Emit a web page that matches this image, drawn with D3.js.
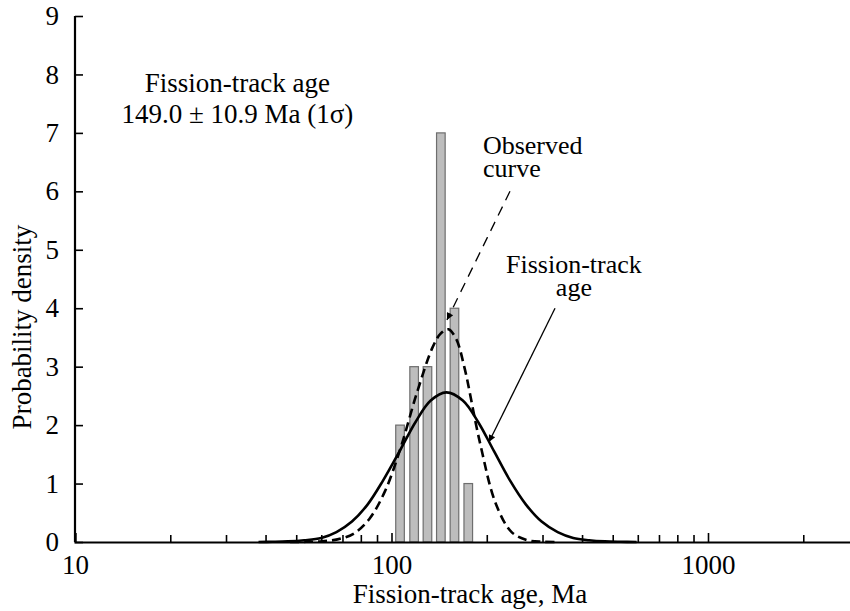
<!DOCTYPE html>
<html>
<head>
<meta charset="utf-8">
<script src="https://cdn.jsdelivr.net/npm/d3@7"></script>
<style>
  html, body { margin: 0; padding: 0; background: #fff; }
  svg { display: block; }
  text { font-family: "Liberation Serif", "Times New Roman", Times, "DejaVu Serif", serif; fill: #000; }
</style>
</head>
<body>
<svg id="chart" width="850" height="611"></svg>
<script>
// ---- Data ----
const xMajorTicks = [10, 100, 1000];
const xMinorTicks = [20, 30, 40, 50, 60, 70, 80, 90, 200, 300, 400, 500, 600, 700, 800, 900, 2000];
const yTicks = [0, 1, 2, 3, 4, 5, 6, 7, 8, 9];

// histogram bars (bin centre age, Ma) and counts
const barAges = [106.4, 117.9, 129.9, 143.2, 158.1, 174.8];
const barCounts = [2, 3, 3, 7, 4, 1];

// solid curve: Fission-track age
const fitAges = [38, 42, 47, 53, 60, 67, 75, 84, 94, 106, 119, 133, 149, 168, 188, 211, 237, 266, 298, 335, 375, 421, 472, 530, 595];
const fitDensity = [0, 0.003, 0.01, 0.03, 0.07, 0.17, 0.35, 0.64, 1.05, 1.55, 2.05, 2.42, 2.56, 2.42, 2.05, 1.55, 1.05, 0.64, 0.35, 0.17, 0.07, 0.03, 0.01, 0.003, 0];

// dashed curve: Observed curve
const obsAges = [47.8, 53.7, 60.2, 67.5, 75.8, 85.0, 95.4, 107.0, 120.1, 134.8, 142.7, 151.2, 160.2, 169.6, 190.3, 213.6, 239.6, 268.9, 301.7, 338.5];
const obsDensity = [0, 0.003, 0.012, 0.045, 0.14, 0.39, 0.87, 1.62, 2.54, 3.33, 3.56, 3.64, 3.47, 3.01, 1.70, 0.655, 0.17, 0.031, 0.004, 0];

// annotations (age, density)
const ageLabelLines = ["Fission-track age", "149.0 \u00B1 10.9 Ma (1\u03C3)"];
const ageLabelPos = [[32.6, 7.70], [32.6, 7.17]];
const obsLabelLines = ["Observed", "curve"];
const obsLabelPos = [[194.5, 6.64], [194.5, 6.24]];
const fitLabelLines = ["Fission-track", "age"];
const fitLabelPos = [[377, 4.61], [377, 4.21]];
const obsArrow = [[236.8, 6.0], [149.7, 3.8]];
const fitArrow = [[328.6, 4.0], [203.2, 1.71]];

const xTitle = "Fission-track age, Ma";
const yTitle = "Probability density";

// ---- Layout ----
const svg = d3.select("#chart");
const x0 = 75, decade = 316.5;
const x = d3.scaleLog().domain([10, 3000]).range([x0, x0 + decade * Math.log10(300)]);
const y = d3.scaleLinear().domain([0, 9]).range([542, 16]);
const fontSize = 27;
const annoSize = 26;
const serif = "Liberation Serif, Times New Roman, serif";

// arrow markers
const defs = svg.append("defs");
defs.append("marker")
  .attr("id", "arrow")
  .attr("viewBox", "0 0 10 10")
  .attr("refX", 10).attr("refY", 5)
  .attr("markerWidth", 12).attr("markerHeight", 7)
  .attr("markerUnits", "userSpaceOnUse")
  .attr("orient", "auto")
  .append("path").attr("d", "M0,0 L10,5 L0,10 Z").attr("fill", "#000");

// bars
const barW = 8.6;
svg.append("g").selectAll("rect")
  .data(barAges.map((a, i) => ({ a, c: barCounts[i] })))
  .join("rect")
  .attr("x", d => x(d.a) - barW / 2)
  .attr("width", barW)
  .attr("y", d => y(d.c))
  .attr("height", d => y(0) - y(d.c))
  .attr("fill", "#bdbdbd")
  .attr("stroke", "#6e6e6e")
  .attr("stroke-width", 1.2);

// curves
const line = d3.line().x(d => x(d[0])).y(d => y(d[1])).curve(d3.curveCatmullRom.alpha(0.5));
svg.append("path")
  .datum(obsAges.map((a, i) => [a, obsDensity[i]]))
  .attr("d", line)
  .attr("fill", "none").attr("stroke", "#000")
  .attr("stroke-width", 2.6).attr("stroke-dasharray", "9,5");
svg.append("path")
  .datum(fitAges.map((a, i) => [a, fitDensity[i]]))
  .attr("d", line)
  .attr("fill", "none").attr("stroke", "#000")
  .attr("stroke-width", 2.6);

// axes
const gx = svg.append("g").attr("transform", `translate(0,${y(0)})`);
gx.call(d3.axisBottom(x).tickValues(xMajorTicks).tickSize(-9).tickPadding(13).tickFormat(d3.format("d")));
const gxm = svg.append("g").attr("transform", `translate(0,${y(0)})`);
gxm.call(d3.axisBottom(x).tickValues(xMinorTicks).tickSize(-7).tickFormat(""));
gxm.select(".domain").remove();

const gy = svg.append("g").attr("transform", `translate(${x0},0)`);
gy.call(d3.axisLeft(y).tickValues(yTicks).tickSize(-8).tickPadding(16).tickFormat(d3.format("d")));

[gx, gxm, gy].forEach(g => {
  g.attr("font-family", serif);
  g.selectAll(".domain").attr("stroke", "#000").attr("stroke-width", 2.2);
  g.selectAll(".tick line").attr("stroke", "#000").attr("stroke-width", 1.6);
  g.selectAll(".tick text").attr("font-size", fontSize).attr("font-family", serif);
});
gy.select(".domain").attr("d", `M0,${y(9)}H0V${y(0)}`);

// titles
svg.append("text")
  .attr("x", 470).attr("y", 603)
  .attr("text-anchor", "middle").attr("font-size", fontSize).attr("font-family", serif)
  .text(xTitle);
svg.append("text")
  .attr("transform", `translate(31,327) rotate(-90)`)
  .attr("text-anchor", "middle").attr("font-size", fontSize).attr("font-family", serif)
  .text(yTitle);

// annotation text
function label(lines, pos, anchor, size) {
  lines.forEach((t, i) => {
    svg.append("text")
      .attr("x", x(pos[i][0])).attr("y", y(pos[i][1]))
      .attr("text-anchor", anchor).attr("font-size", size).attr("font-family", serif)
      .text(t);
  });
}
label(ageLabelLines, ageLabelPos, "middle", fontSize);
label(obsLabelLines, obsLabelPos, "start", annoSize);
label(fitLabelLines, fitLabelPos, "middle", annoSize);

// arrows
svg.append("line")
  .attr("x1", x(obsArrow[0][0])).attr("y1", y(obsArrow[0][1]))
  .attr("x2", x(obsArrow[1][0])).attr("y2", y(obsArrow[1][1]))
  .attr("stroke", "#000").attr("stroke-width", 1.3)
  .attr("stroke-dasharray", "10,7")
  .attr("marker-end", "url(#arrow)");
svg.append("line")
  .attr("x1", x(fitArrow[0][0])).attr("y1", y(fitArrow[0][1]))
  .attr("x2", x(fitArrow[1][0])).attr("y2", y(fitArrow[1][1]))
  .attr("stroke", "#000").attr("stroke-width", 1.3)
  .attr("marker-end", "url(#arrow)");
</script>
</body>
</html>
